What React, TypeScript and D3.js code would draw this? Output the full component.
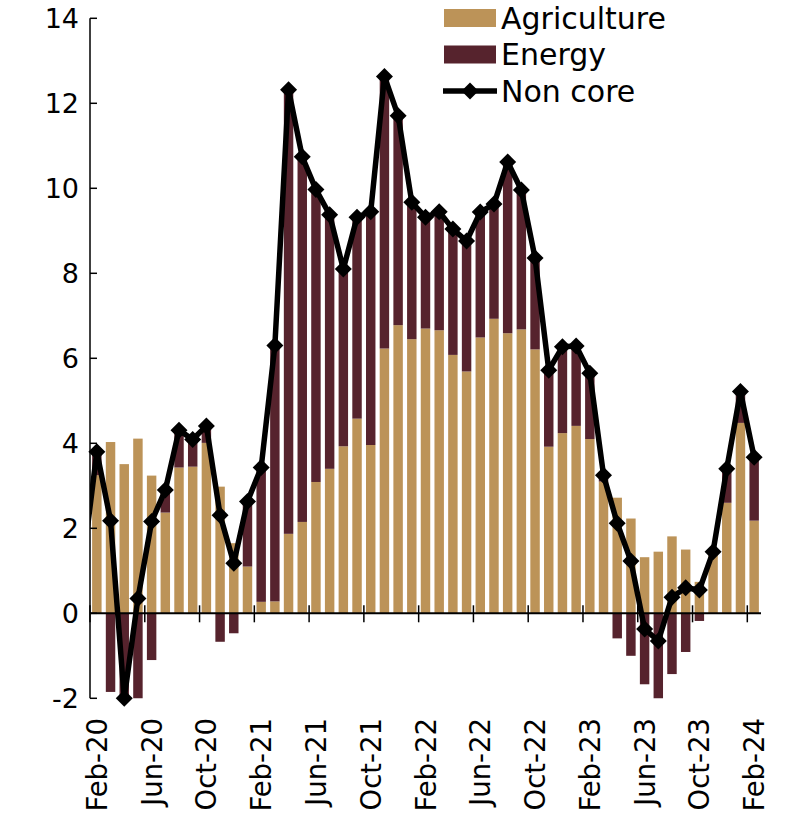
import React from "react";
import * as d3 from "d3";

const categories: string[] = [
  "Feb-20","Mar-20","Apr-20","May-20","Jun-20","Jul-20","Aug-20","Sep-20","Oct-20","Nov-20","Dec-20",
  "Jan-21","Feb-21","Mar-21","Apr-21","May-21","Jun-21","Jul-21","Aug-21","Sep-21","Oct-21","Nov-21","Dec-21",
  "Jan-22","Feb-22","Mar-22","Apr-22","May-22","Jun-22","Jul-22","Aug-22","Sep-22","Oct-22","Nov-22","Dec-22",
  "Jan-23","Feb-23","Mar-23","Apr-23","May-23","Jun-23","Jul-23","Aug-23","Sep-23","Oct-23","Nov-23","Dec-23",
  "Jan-24","Feb-24",
];

const agriculture: number[] = [
  3.25, 4.03, 3.51, 4.11, 3.24, 2.37, 3.43, 3.45, 4.01, 2.98, 1.65,
  1.10, 0.27, 0.28, 1.87, 2.15, 3.09, 3.40, 3.93, 4.58, 3.96, 6.23, 6.78,
  6.45, 6.70, 6.66, 6.08, 5.69, 6.49, 6.93, 6.59, 6.68, 6.21, 3.92, 4.24,
  4.41, 4.10, 3.10, 2.72, 2.23, 1.32, 1.45, 1.81, 1.50, 0.74, 1.42, 2.60,
  4.48, 2.18,
];

const energy: number[] = [
  0.55, -1.85, -5.5, -3.78, -1.10, 0.53, 0.88, 0.64, 0.40, -0.67, -0.47,
  1.53, 3.16, 6.02, 10.45, 8.59, 6.88, 5.98, 4.17, 4.74, 5.49, 6.40, 4.93,
  3.22, 2.62, 2.79, 2.96, 3.07, 2.95, 2.70, 4.03, 3.28, 2.15, 1.80, 2.03,
  1.88, 1.55, 0.15, -0.59, -1.00, -1.67, -2.12, -1.43, -0.91, -0.18, 0.03, 0.78,
  0.74, 1.47,
];

const nonCore: number[] = [
  3.80, 2.18, -2.00, 0.35, 2.16, 2.90, 4.31, 4.09, 4.41, 2.31, 1.18,
  2.63, 3.43, 6.30, 12.32, 10.74, 9.97, 9.38, 8.10, 9.32, 9.45, 12.63, 11.71,
  9.67, 9.32, 9.45, 9.04, 8.76, 9.44, 9.63, 10.62, 9.96, 8.36, 5.72, 6.27,
  6.29, 5.65, 3.25, 2.12, 1.23, -0.37, -0.65, 0.38, 0.60, 0.55, 1.45, 3.40,
  5.22, 3.67,
];

// value of the month before the first category (Jan-20); only its clipped segment is visible
const nonCorePrevious = 1.2;

const yTicks: number[] = [-2, 0, 2, 4, 6, 8, 10, 12, 14];
const xLabelEvery = 4;

const seriesNames = ["Agriculture", "Energy", "Non core"];
const colors = { agri: "#BC9358", energy: "#56232D", line: "#000000" };

const FONT = "'DejaVu Sans', sans-serif";

export default function App() {
  const W = 791, H = 829;
  const left = 90, right = 761, top = 18.3, bottom = 698.3;

  const x = d3.scaleBand<string>().domain(categories).range([left, right]).paddingInner(0.31).paddingOuter(0.155);
  const y = d3.scaleLinear().domain([-2, 14]).range([bottom, top]);
  const step = x.step();
  const cx = (c: string) => (x(c) as number) + x.bandwidth() / 2;

  const table = categories.map((c, i) => ({ cat: c, agri: agriculture[i], energy: energy[i] }));
  const stack = d3.stack<any>().keys(["agri", "energy"]).offset(d3.stackOffsetDiverging);
  const layers = stack(table);

  const linePts: [number, number][] = [
    [cx(categories[0]) - step, y(nonCorePrevious)],
    ...categories.map((c, i) => [cx(c), y(nonCore[i])] as [number, number]),
  ];
  const linePath = d3.line()(linePts) as string;

  const dsize = 8.5;
  const diamond = (px: number, py: number) =>
    `M${px},${py - dsize}L${px + dsize},${py}L${px},${py + dsize}L${px - dsize},${py}Z`;

  const y0 = y(0);
  const tickIdx = categories.map((_, i) => i).filter((i) => i % xLabelEvery === 0);

  return (
    <svg width={W} height={H} style={{ position: "absolute", left: 0, top: 0 }} fontFamily={FONT}>
      <defs>
        <clipPath id="plotClip">
          <rect x={left} y={top} width={right - left} height={bottom - top} />
        </clipPath>
        <clipPath id="lineClip">
          <rect x={left} y={0} width={W - left} height={H} />
        </clipPath>
      </defs>
      <rect x={0} y={0} width={W} height={H} fill="#fff" />

      <g clipPath="url(#plotClip)">
        {layers.map((layer, li) => (
          <g key={li} fill={li === 0 ? colors.agri : colors.energy}>
            {layer.map((d, i) => {
              const yA = y(d[1]);
              const yB = y(d[0]);
              return (
                <rect key={i} x={x(categories[i])} width={x.bandwidth()} y={Math.min(yA, yB)} height={Math.abs(yB - yA)} />
              );
            })}
          </g>
        ))}
      </g>

      {/* y axis */}
      <line x1={left} x2={left} y1={top} y2={bottom} stroke="#000" strokeWidth={1.5} />
      {yTicks.map((t) => (
        <g key={t}>
          <line x1={left} x2={left + 7} y1={y(t)} y2={y(t)} stroke="#000" strokeWidth={1.5} />
          <text x={79} y={y(t)} textAnchor="end" dominantBaseline="central" fontSize={27} fill="#000">
            {t}
          </text>
        </g>
      ))}

      {/* x axis at zero */}
      <line x1={left} x2={right} y1={y0} y2={y0} stroke="#000" strokeWidth={2} />
      {tickIdx.map((i) => {
        const bx = (x(categories[i]) as number) - (step * 0.31) / 2;
        return <line key={i} x1={bx} x2={bx} y1={y0 - 8} y2={y0 + 9} stroke="#000" strokeWidth={1.5} />;
      })}
      {tickIdx.map((i) => (
        <text
          key={"l" + i}
          transform={`translate(${cx(categories[i])},718) rotate(-90)`}
          textAnchor="end"
          dominantBaseline="central"
          fontSize={27.5}
          fill="#000"
        >
          {categories[i]}
        </text>
      ))}

      {/* non core line */}
      <path d={linePath} fill="none" stroke={colors.line} strokeWidth={5.5} strokeLinejoin="round" clipPath="url(#lineClip)" />
      {categories.map((c, i) => (
        <path key={c} d={diamond(cx(c), y(nonCore[i]))} fill={colors.line} />
      ))}

      {/* legend */}
      <g>
        <rect x={444} y={9} width={52} height={18} fill={colors.agri} />
        <text x={501} y={18} dominantBaseline="central" fontSize={30} fill="#000">{seriesNames[0]}</text>
        <rect x={444} y={45.5} width={52} height={18} fill={colors.energy} />
        <text x={501} y={54.5} dominantBaseline="central" fontSize={30} fill="#000">{seriesNames[1]}</text>
        <line x1={443} x2={497} y1={91} y2={91} stroke={colors.line} strokeWidth={5.5} />
        <path d={diamond(470, 91)} fill={colors.line} />
        <text x={501} y={91} dominantBaseline="central" fontSize={30} fill="#000">{seriesNames[2]}</text>
      </g>
    </svg>
  );
}
